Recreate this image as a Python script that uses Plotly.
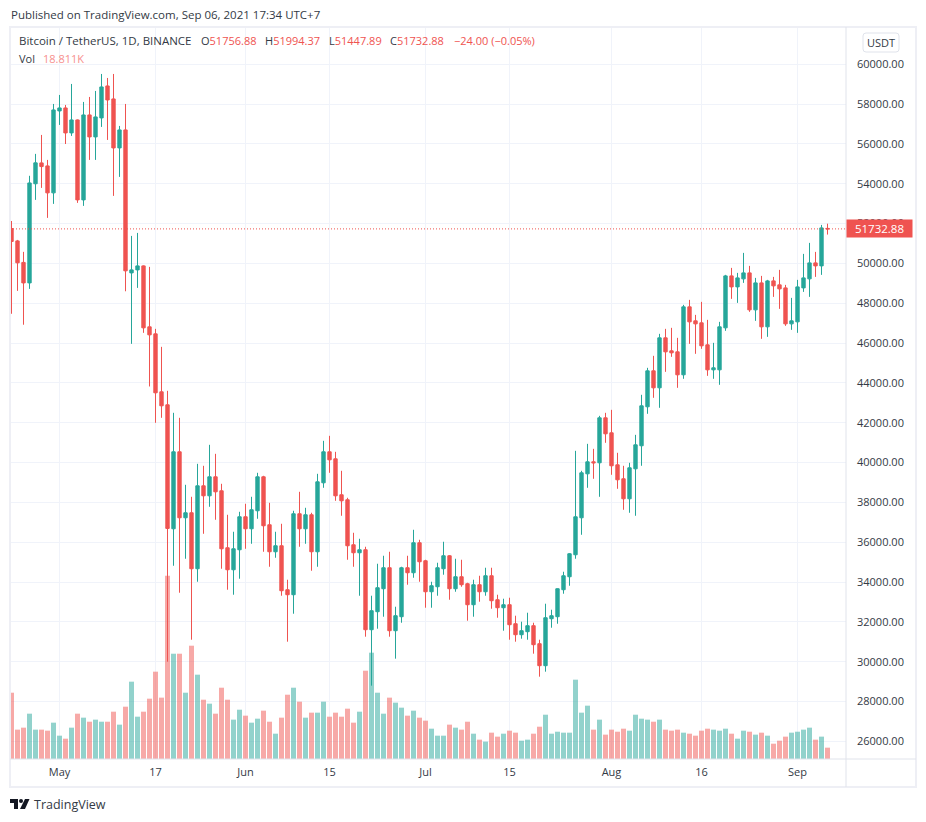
import pandas as pd
import plotly.graph_objects as go

# --- data: BTCUSDT daily, Apr 23 to Sep 6 2021 ---
dates = pd.date_range("2021-04-23", "2021-09-06", freq="D").strftime("%Y-%m-%d").tolist()

opens = [51750, 51130, 50050, 49020, 54000, 55047, 54896, 53542, 57657, 57807, 56553, 57205, 53190, 57456, 56352, 57306,
         58912, 58259, 55800, 56703, 49524, 49674, 49875, 46814, 46462, 43551, 42899, 36673, 40538, 37225, 37476, 34666,
         38831, 38329, 39283, 38580, 35720, 34615, 35619, 37276, 36673, 37577, 39283, 36874, 35519, 35820, 33612, 33361,
         37426, 36673, 37376, 35519, 38982, 40538, 40186, 38380, 38129, 35870, 35469, 35619, 31604, 32508, 33662, 34716,
         31554, 32257, 34716, 34465, 35971, 35067, 33511, 33762, 34666, 35318, 33662, 34264, 33913, 32859, 33863, 33511,
         34314, 33110, 32708, 32859, 31905, 31353, 31504, 31805, 30901, 29797, 32156, 32257, 33612, 34264, 35368, 37225,
         39434, 40036, 39986, 42245, 41492, 39885, 39183, 38179, 39685, 40841, 42799, 44605, 43752, 46262, 45609, 45559,
         44405, 47817, 47115, 47015, 45910, 44655, 44655, 46764, 49373, 48821, 49223, 49524, 47667, 49022, 46814, 49122,
         48922, 48771, 46964, 47065, 48771, 49223, 50026, 49875, 51756.88]
highs = [52130, 51180, 50580, 54400, 55500, 56452, 55198, 58008, 58460, 57958, 59012, 57230, 58109, 58360, 58661, 59514,
         59313, 59514, 56904, 58008, 51381, 51531, 49900, 49825, 46713, 45810, 43601, 42497, 42246, 38882, 38279, 39935,
         39835, 40889, 40437, 38932, 37376, 36523, 37526, 37928, 38279, 39484, 39333, 37978, 36523, 36924, 34114, 37577,
         38530, 37727, 37476, 39434, 41090, 41341, 40538, 39584, 38229, 36472, 36171, 35770, 33311, 34917, 35318, 35519,
         32758, 34766, 35318, 36623, 36121, 35117, 34013, 34967, 36021, 35350, 35168, 35117, 33963, 34114, 34314, 34716,
         34716, 33361, 33160, 33210, 32307, 32006, 32457, 31955, 31102, 32909, 32608, 33680, 34515, 35450, 40588, 39584,
         40939, 40688, 42345, 42496, 42646, 40488, 39835, 39986, 41391, 43401, 44756, 45358, 46463, 46713, 46764, 46262,
         47918, 48169, 47416, 48068, 47165, 46011, 47065, 49424, 49775, 49524, 50528, 49875, 49273, 49373, 49173, 49323,
         49675, 48922, 48269, 49173, 50478, 51030, 50578, 51933, 51994.37]
lows = [47470, 48620, 46920, 48720, 53190, 53792, 52286, 52989, 56954, 55996, 56402, 53039, 52889, 55198, 55198, 56854,
        56201, 53391, 54344, 48600, 45960, 48771, 46513, 43819, 41995, 42246, 29998, 34816, 33461, 35167, 31102, 34013,
        36422, 37777, 37125, 34666, 33612, 33361, 34164, 35669, 35920, 37175, 35519, 34766, 35218, 33310, 31002, 32407,
        35770, 35920, 34565, 34766, 38731, 39484, 38078, 37326, 35117, 34766, 33310, 31253, 28794, 31654, 32257, 31253,
        30149, 31955, 33863, 34214, 34013, 32708, 32708, 33311, 34365, 33110, 33511, 33762, 32056, 32257, 33010, 33311,
        32658, 32206, 31554, 31102, 31002, 31152, 31102, 30400, 29245, 29496, 31704, 31905, 33411, 33812, 35168, 36372,
        38731, 39183, 38279, 40990, 39384, 38681, 37627, 37476, 37326, 39837, 42447, 43250, 42748, 44555, 45308, 43752,
        44204, 45961, 45459, 45710, 44354, 44204, 43903, 46613, 48219, 48018, 49022, 47567, 47115, 46212, 46312, 48320,
        47717, 46864, 46663, 46513, 48570, 48320, 49323, 49424, 51447.89]
closes = [51100, 50030, 49020, 54040, 55050, 54863, 53542, 57707, 57807, 56553, 57205, 53190, 57456, 56352, 57356, 58862,
          58209, 55800, 56703, 49627, 49674, 49875, 46764, 46412, 43501, 42849, 36690, 40538, 37225, 37476, 34666, 38831,
          38329, 39283, 38530, 35669, 34615, 35669, 37276, 36673, 37627, 39283, 36824, 35519, 35820, 33562, 33361, 37426,
          36673, 37376, 35519, 39032, 40538, 40136, 38329, 38078, 35820, 35469, 35619, 31604, 32558, 33712, 34716, 31554,
          32307, 34716, 34465, 35971, 35017, 33511, 33813, 34716, 35318, 33662, 34264, 33863, 32859, 33863, 33511, 34314,
          33060, 32708, 32859, 31855, 31353, 31554, 31805, 30851, 29797, 32206, 32307, 33662, 34314, 35419, 37275, 39484,
          40036, 39986, 42245, 41442, 39836, 39133, 38179, 39735, 40889, 42849, 44605, 43752, 46262, 45559, 45509, 44405,
          47817, 47065, 46964, 45860, 44655, 44756, 46814, 49373, 48821, 49273, 49524, 47667, 49022, 46814, 49122, 48872,
          48721, 46964, 47115, 48821, 49273, 50026, 49875, 51783, 51732.88]
# volume in thousands of BTC
volumes = [110.0, 48.7, 52.0, 75.2, 48.7, 48.7, 47.0, 60.3, 38.7, 33.7, 52.0, 75.2, 68.6, 61.9, 65.3, 61.9, 61.9, 78.5,
           57.0, 86.8, 128.3, 70.2, 78.5, 100.1, 144.9, 101.8, 304.2, 174.7, 174.7, 110.0, 188.0, 139.9, 98.4, 91.8,
           75.2, 118.3, 98.4, 65.3, 81.8, 71.9, 60.3, 66.9, 80.2, 61.9, 42.0, 68.6, 106.7, 118.3, 95.1, 68.6, 76.9, 76.9,
           95.1, 70.2, 76.9, 70.2, 83.5, 60.3, 78.5, 146.5, 176.4, 110.0, 75.2, 101.8, 93.5, 85.2, 71.9, 80.2, 68.6, 63.6,
           50.3, 38.7, 38.7, 57.0, 52.0, 48.7, 61.9, 42.0, 32.1, 28.8, 43.7, 37.1, 42.0, 47.0, 43.7, 30.4, 32.1, 42.0,
           53.6, 73.5, 42.0, 45.3, 43.7, 43.7, 131.6, 76.9, 88.5, 48.7, 65.3, 40.4, 48.7, 45.3, 50.3, 47.0, 73.5, 66.9,
           65.3, 61.9, 65.3, 48.7, 47.0, 48.7, 43.7, 42.0, 38.7, 47.0, 50.3, 48.7, 47.0, 50.3, 42.0, 33.7, 47.0, 45.3,
           40.4, 43.7, 38.7, 25.4, 30.4, 37.1, 43.7, 45.3, 48.7, 52.0, 32.1, 37.1, 18.811]

price_ticks = [26000, 28000, 30000, 32000, 34000, 36000, 38000, 40000, 42000, 44000, 46000, 48000, 50000, 52000, 54000,
               56000, 58000, 60000]
time_ticks = ["2021-05-01", "2021-05-17", "2021-06-01", "2021-06-15", "2021-07-01", "2021-07-15", "2021-08-01",
              "2021-08-16", "2021-09-01"]
time_labels = ["May", "17", "Jun", "15", "Jul", "15", "Aug", "16", "Sep"]

GREEN = "#26a69a"
RED = "#ef5350"
GRID = "#f0f3fa"
BORDER = "#e0e3eb"
TEXT = "#333a45"
FONT = "Open Sans"

# plot box in page pixels
LEFT, RIGHT, TOP, BOTTOM = 10, 846, 28, 759


def px(x):
    return (x - LEFT) / (RIGHT - LEFT)


def py(y):
    return (BOTTOM - y) / (BOTTOM - TOP)


vol_colors = ["rgba(38,166,154,0.5)" if c >= o else "rgba(239,83,80,0.5)" for o, c in zip(opens, closes)]

fig = go.Figure()

# volume goes on the base axis so the candles are painted over it
fig.add_trace(go.Bar(x=dates, y=volumes, marker=dict(color=vol_colors, line=dict(width=0)), yaxis="y",
                     showlegend=False))
fig.add_trace(go.Candlestick(x=dates, open=opens, high=highs, low=lows, close=closes, yaxis="y2", showlegend=False,
                             increasing=dict(line=dict(color=GREEN, width=1), fillcolor=GREEN),
                             decreasing=dict(line=dict(color=RED, width=1), fillcolor=RED)))

fig.update_layout(
    width=926, height=822, autosize=False,
    margin=dict(l=LEFT, r=926 - RIGHT, t=TOP, b=822 - BOTTOM, pad=0),
    paper_bgcolor="white", plot_bgcolor="white",
    font=dict(family=FONT, size=11, color=TEXT),
    bargap=1 / 6, boxgap=0.2,
    showlegend=False,
    xaxis=dict(type="date", range=["2021-04-22 18:00", "2021-09-09 02:00"], rangeslider=dict(visible=False),
               tickmode="array", tickvals=time_ticks, ticktext=time_labels, tickangle=0,
               showgrid=True, gridcolor=GRID, gridwidth=1, zeroline=False,
               showline=False, ticks="", ticklabelstandoff=5),
    yaxis=dict(range=[0, 1213], visible=False, showgrid=False, zeroline=False),
    yaxis2=dict(overlaying="y", side="right", range=[25111, 61822], tickmode="array", tickvals=price_ticks,
                ticktext=[f"{t:.2f}" for t in price_ticks], showgrid=True, gridcolor=GRID, gridwidth=1,
                zeroline=False, showline=False, ticks="", ticklabelstandoff=10),
)

# last price line and its badge
fig.add_shape(type="line", xref="paper", x0=0, x1=1, yref="y2", y0=closes[-1], y1=closes[-1],
              line=dict(color=RED, width=1, dash="1px,2px"))
fig.add_annotation(xref="paper", x=px(846), xanchor="left", yref="y2", y=closes[-1], yanchor="middle",
                   text=f"{closes[-1]:.2f}", showarrow=False, bgcolor=RED, width=65, height=17, borderpad=0,
                   font=dict(color="white", size=11.5, family=FONT))

# chart frame and axis borders
fig.add_shape(type="rect", xref="paper", yref="paper", x0=px(10), x1=px(916), y0=py(787), y1=py(27),
              line=dict(color="#eeeff5", width=2), layer="above")
fig.add_shape(type="line", xref="paper", yref="paper", x0=1, x1=1, y0=py(787), y1=py(27),
              line=dict(color=BORDER, width=1))
fig.add_shape(type="line", xref="paper", yref="paper", x0=0, x1=px(916), y0=0, y1=0,
              line=dict(color=BORDER, width=1))

# USDT button
fig.add_shape(type="path", xref="paper", yref="paper",
              path=(f"M {px(866)} {py(33)} L {px(896)} {py(33)} Q {px(899)} {py(33)} {px(899)} {py(36)} "
                    f"L {px(899)} {py(49)} Q {px(899)} {py(52)} {px(896)} {py(52)} "
                    f"L {px(866)} {py(52)} Q {px(863)} {py(52)} {px(863)} {py(49)} "
                    f"L {px(863)} {py(36)} Q {px(863)} {py(33)} {px(866)} {py(33)} Z"),
              line=dict(color=BORDER, width=1), fillcolor="white")


def note(x, y, text, size=11, color=TEXT, anchor="left"):
    fig.add_annotation(xref="paper", yref="paper", x=px(x), y=py(y), xanchor=anchor, yanchor="middle", text=text,
                       showarrow=False, borderpad=0, font=dict(size=size, color=color, family=FONT))


def red(s):
    return f'<span style="color:{RED}">{s}</span>'


note(10, 14, "Published on TradingView.com, Sep 06, 2021 17:34 UTC+7", size=11.5)
note(18, 41, "Bitcoin / TetherUS, 1D, BINANCE", size=11.5)
note(200, 41, "O" + red("51756.88"))
note(264, 41, "H" + red("51994.37"))
note(328, 41, "L" + red("51447.89"))
note(389, 41, "C" + red("51732.88"))
note(453, 41, red("−24.00 (−0.05%)"))
note(18, 59, "Vol")
note(42, 59, "18.811K", color="#f7908e")
note(881, 43, "USDT", anchor="center")
note(33, 804, "TradingView", size=12.5)

# TradingView logo
fig.add_shape(type="path", xref="paper", yref="paper", line=dict(width=0), fillcolor="#131722",
              path=(f"M {px(10)} {py(799)} L {px(18)} {py(799)} L {px(18)} {py(809)} L {px(14)} {py(809)} "
                    f"L {px(14)} {py(803)} L {px(10)} {py(803)} Z"))
fig.add_shape(type="circle", xref="paper", yref="paper", line=dict(width=0), fillcolor="#131722",
              x0=px(19), x1=px(23), y0=py(803), y1=py(799))
fig.add_shape(type="path", xref="paper", yref="paper", line=dict(width=0), fillcolor="#131722",
              path=(f"M {px(25)} {py(799)} L {px(29.5)} {py(799)} L {px(25)} {py(809)} L {px(20)} {py(809)} Z"))

fig.write_html("out.html", config=dict(displayModeBar=False), post_script="document.body.style.margin='0';")
